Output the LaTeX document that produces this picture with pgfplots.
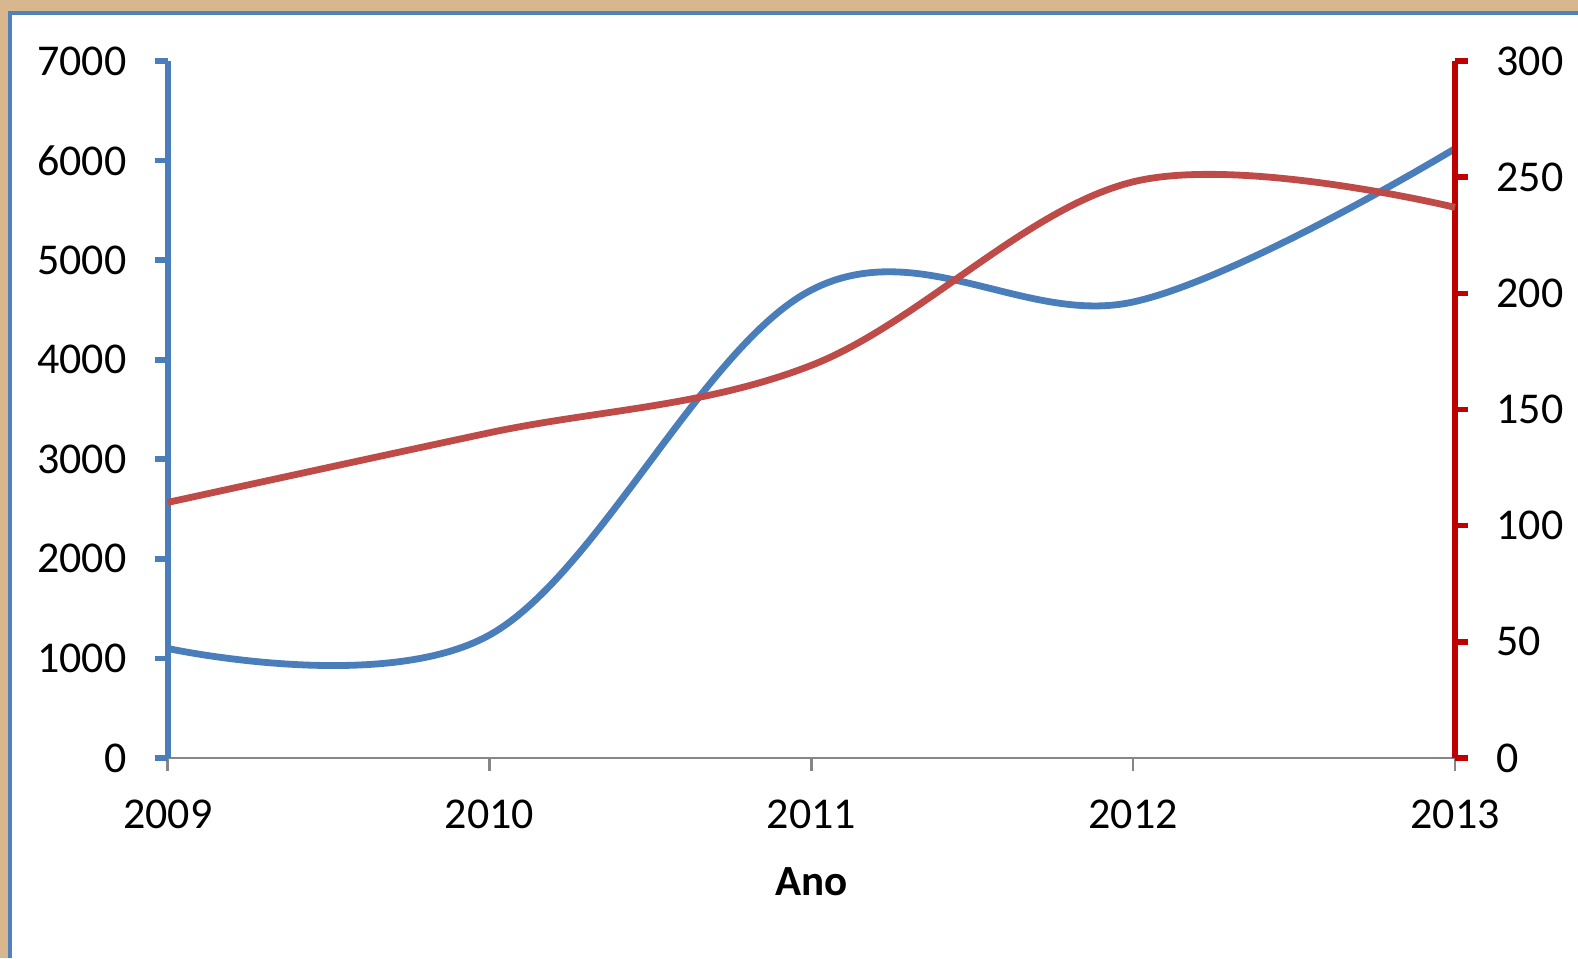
\documentclass[border=0pt]{standalone}
\usepackage{pgfplots}
\pgfplotsset{compat=1.18}
\usepackage{fontspec}
\setmainfont{Carlito}
\definecolor{lineblue}{HTML}{4A7EBB}
\definecolor{linered}{HTML}{BE4B48}
\definecolor{axred}{HTML}{C00000}
\definecolor{tanbg}{HTML}{D8B78E}
\definecolor{frameblue}{HTML}{4F81BD}
\definecolor{axgray}{HTML}{868686}

\begin{document}
\begin{tikzpicture}
\fill[tanbg] (0,0) rectangle (789pt,479pt);
\fill[white] (4.85pt,0) rectangle (789pt,472.5pt);
\draw[frameblue, line width=2pt] (4.85pt,0) -- (4.85pt,472.5pt) -- (789pt,472.5pt);

\pgfplotsset{
 common/.style={scale only axis, width=643.65pt, height=348.5pt, at={(83.85pt,100pt)}, anchor=south west,
 xmin=2009, xmax=2013, clip=false,
 tick align=outside, major tick length=6.5pt,
 /pgf/number format/1000 sep={}, /pgf/number format/assume math mode=true,
 tick label style={font=\fontsize{22}{26}\selectfont, inner sep=0pt},
 }
}
\begin{axis}[common, axis x line*=bottom, axis y line*=left, ymin=0, ymax=7000, ytick={0,1000,...,7000}, xtick={2009,2010,2011,2012,2013},
 x axis line style={draw=axgray, line width=1.3pt, -},
 y axis line style={draw=lineblue, line width=2.8pt, -},
 xtick style={draw=axgray, line width=1.3pt},
 ytick style={draw=lineblue, line width=2.8pt},
 yticklabel style={xshift=-14pt},
 xticklabel style={yshift=-14.5pt},
 xlabel={\textbf{Ano}}, xlabel style={font=\fontsize{21.5}{25}\selectfont, at={(axis description cs:0.5,0)}, anchor=center, yshift=-62pt}]
\addplot[lineblue, line width=3.4pt, smooth, tension=0.6] coordinates {(2009,1100) (2010,1235) (2011,4700) (2012,4580) (2013,6120)};
\end{axis}
\begin{axis}[common, axis x line=none, axis y line*=right, ymin=0, ymax=300, ytick={0,50,...,300},
 y axis line style={draw=axred, line width=2.8pt, -},
 ytick style={draw=axred, line width=2.8pt},
 yticklabel style={xshift=14pt}]
\addplot[linered, line width=3.4pt, smooth, tension=0.6] coordinates {(2009,110) (2010,140) (2011,169) (2012,248) (2013,237)};
\end{axis}
\pgfresetboundingbox
\path[use as bounding box] (0,0) rectangle (789pt,479pt);
\end{tikzpicture}
\end{document}
